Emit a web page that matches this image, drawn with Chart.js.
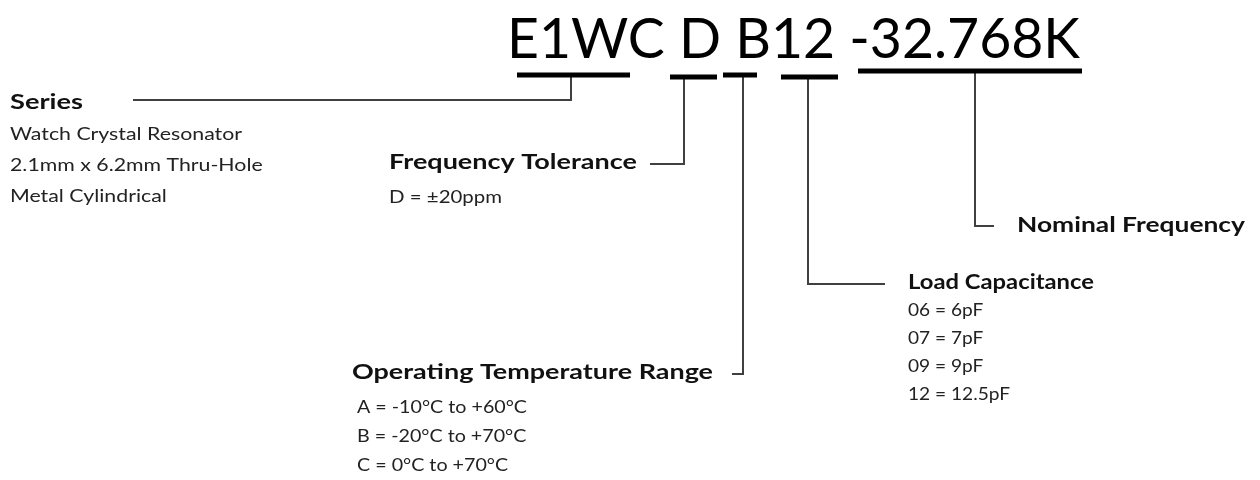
<!DOCTYPE html>
<html>
<head>
<meta charset="utf-8">
<script src="https://cdn.jsdelivr.net/npm/chart.js@4.4.0/dist/chart.umd.min.js"></script>
<style>
  html, body { margin: 0; padding: 0; background: #ffffff; }
  #wrap { width: 1260px; height: 480px; }
</style>
</head>
<body>
<div id="wrap"><canvas id="diagram" width="1260" height="480"></canvas></div>
<script>
// part number and its code groups
const partNumber = 'E1WC D B12 -32.768K';
const groupNames = ['Series', 'Frequency Tolerance', 'Operating Temperature Range', 'Load Capacitance', 'Nominal Frequency'];
const seriesLines = ['Watch Crystal Resonator', '2.1mm x 6.2mm Thru-Hole', 'Metal Cylindrical'];
const toleranceLines = ['D = \u00b120ppm'];
const temperatureLines = ['A = -10\u00b0C to +60\u00b0C', 'B = -20\u00b0C to +70\u00b0C', 'C = 0\u00b0C to +70\u00b0C'];
const capacitanceLines = ['06 = 6pF', '07 = 7pF', '09 = 9pF', '12 = 12.5pF'];
const frequencyLines = [];

// layout (diagram units = pixels of the 1260x480 picture)
const underlines = [
    { x0: 517, x1: 630, y: 75 },
    { x0: 670, x1: 717, y: 77 },
    { x0: 723, x1: 757, y: 75 },
    { x0: 781, x1: 838, y: 77 },
    { x0: 858, x1: 1082, y: 71 }
];
const connectors = [
    [{ x: 571, y: 75 }, { x: 571, y: 100 }, { x: 133, y: 100 }],
    [{ x: 684, y: 77 }, { x: 684, y: 164 }, { x: 650, y: 164 }],
    [{ x: 743, y: 75 }, { x: 743, y: 374 }, { x: 732, y: 374 }],
    [{ x: 808, y: 77 }, { x: 808, y: 284 }, { x: 885, y: 284 }],
    [{ x: 975, y: 71 }, { x: 975, y: 226 }, { x: 994, y: 226 }]
];
// w = heading width, bw = width of the detail line number ref
const groupBlocks = [
    { lines: seriesLines, x: 10, y: 103, w: 73, sx: 10, sy: 135, step: 31, ref: 0, bw: 232 },
    { lines: toleranceLines, x: 389, y: 163, w: 248, sx: 389, sy: 198, step: 29, ref: 0, bw: 113 },
    { lines: temperatureLines, x: 352, y: 373, w: 361, sx: 357, sy: 408, step: 29, ref: 0, bw: 170 },
    { lines: capacitanceLines, x: 908, y: 283, w: 186, sx: 908, sy: 311, step: 28, ref: 3, bw: 102 },
    { lines: frequencyLines, x: 1017, y: 226, w: 228, sx: 1017, sy: 256, step: 28, ref: 0, bw: 0 }
];

const lineColor = '#404040';
const fontFamily = 'Lato, "Open Sans", sans-serif';

const datasets = [];
underlines.forEach(function(u) {
    datasets.push({
        data: [{ x: u.x0, y: u.y }, { x: u.x1, y: u.y }],
        borderColor: '#000000',
        borderWidth: 5,
        pointRadius: 0,
        showLine: true
    });
});
connectors.forEach(function(c) {
    datasets.push({
        data: c,
        borderColor: lineColor,
        borderWidth: 2,
        pointRadius: 0,
        showLine: true
    });
});

// draws all the text through the chart's scales
const textPlugin = {
    id: 'partText',
    afterDatasetsDraw(chart) {
        const ctx = chart.ctx;
        const sx = chart.scales.x;
        const sy = chart.scales.y;
        ctx.save();
        ctx.textAlign = 'left';

        // big part number, fit to its width
        ctx.fillStyle = '#000000';
        ctx.textBaseline = 'alphabetic';
        ctx.font = '56px ' + fontFamily;
        const left = sx.getPixelForValue(507);
        const right = sx.getPixelForValue(1080);
        const wNat = ctx.measureText(partNumber).width;
        ctx.save();
        ctx.translate(left, sy.getPixelForValue(58));
        ctx.scale((right - left) / wNat, 1);
        ctx.fillText(partNumber, 0, 0);
        ctx.restore();

        ctx.textBaseline = 'middle';
        groupBlocks.forEach(function(b, i) {
            ctx.fillStyle = '#111111';
            ctx.font = 'bold 20px ' + fontFamily;
            const name = groupNames[i];
            const nat = ctx.measureText(name).width;
            const px = sx.getPixelForValue(b.x);
            const pw = sx.getPixelForValue(b.x + b.w) - px;
            ctx.save();
            ctx.translate(px, sy.getPixelForValue(b.y));
            ctx.scale(pw / nat, 1);
            ctx.fillText(name, 0, 0);
            ctx.restore();

            if (!b.lines.length) return;
            ctx.fillStyle = '#222222';
            ctx.font = '17px ' + fontFamily;
            const lx = sx.getPixelForValue(b.sx);
            const k = (sx.getPixelForValue(b.sx + b.bw) - lx) / ctx.measureText(b.lines[b.ref]).width;
            b.lines.forEach(function(t, j) {
                ctx.save();
                ctx.translate(lx, sy.getPixelForValue(b.sy + j * b.step));
                ctx.scale(k, 1);
                ctx.fillText(t, 0, 0);
                ctx.restore();
            });
        });
        ctx.restore();
    }
};

new Chart(document.getElementById('diagram').getContext('2d'), {
    type: 'scatter',
    data: { datasets: datasets },
    options: {
        responsive: false,
        animation: false,
        layout: { padding: 0 },
        plugins: { legend: { display: false }, tooltip: { enabled: false } },
        scales: {
            x: { type: 'linear', min: 0, max: 1260, display: false },
            y: { type: 'linear', min: 0, max: 480, reverse: true, display: false }
        },
        elements: { line: { borderCapStyle: 'butt', tension: 0 } }
    },
    plugins: [textPlugin]
});
</script>
</body>
</html>
